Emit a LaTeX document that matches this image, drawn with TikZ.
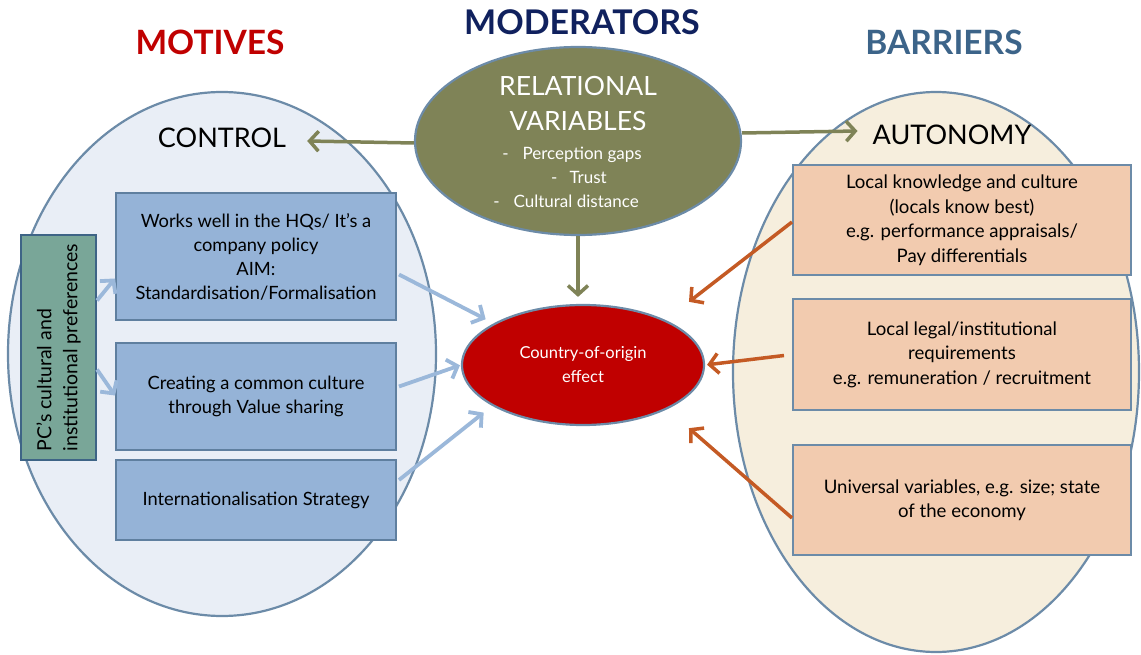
\documentclass[tikz,border=0pt]{standalone}
\usepackage{fontspec}
\setmainfont{Lato}
\usetikzlibrary{arrows.meta,shapes.geometric}

\definecolor{motred}{HTML}{C00000}
\definecolor{modnavy}{HTML}{10215E}
\definecolor{barblue}{HTML}{3C6489}
\definecolor{olive}{HTML}{7F8357}
\definecolor{rimblue}{HTML}{6C8BA8}
\definecolor{ctrlfill}{HTML}{E9EEF6}
\definecolor{autofill}{HTML}{F6EEDD}
\definecolor{boxblue}{HTML}{95B3D7}
\definecolor{boxrim}{HTML}{5F7F9F}
\definecolor{pcgreen}{HTML}{79A698}
\definecolor{pcrim}{HTML}{3E6486}
\definecolor{peach}{HTML}{F2CBAF}
\definecolor{effred}{HTML}{C00000}
\definecolor{rust}{HTML}{C45A24}
\definecolor{arrblue}{HTML}{9BB8DA}

\tikzset{
  heading/.style={font=\bfseries\fontsize{33.5}{33.5}\selectfont, inner sep=0pt, anchor=base},
  zone/.style={ellipse, draw=rimblue, line width=2.2pt, inner sep=0pt},
  zonelabel/.style={font=\fontsize{27}{27}\selectfont, inner sep=0pt},
  modtext/.style={text=white, inner sep=0pt, anchor=base},
  motivebox/.style={rectangle, draw=boxrim, fill=boxblue, line width=2pt, align=center,
    font=\fontsize{18.3}{24}\selectfont, minimum width=280pt, inner sep=0pt},
  barrierbox/.style={rectangle, draw=rimblue, fill=peach, line width=2pt, align=center,
    font=\fontsize{18.6}{24.5}\selectfont, minimum width=338pt, inner sep=0pt},
  barb/.style={-{Straight Barb[length=9pt,width=20pt]}},
  olivearrow/.style={barb, draw=olive, line width=3.5pt},
  bluearrow/.style={barb, draw=arrblue, line width=3.8pt},
  rustarrow/.style={barb, draw=rust, line width=3.5pt},
}

\begin{document}
\begin{tikzpicture}[x=1pt,y=-1pt]
\useasboundingbox (0,0) rectangle (1141,655);

% column headings
\node[heading, text=motred] (hmot) at (210,55) {MOTIVES};
\node[heading, text=modnavy, font=\bfseries\fontsize{34}{34}\selectfont] (hmod) at (582,35) {MODERATORS};
\node[heading, text=barblue] (hbar) at (944,55) {BARRIERS};

% the two large zones
\node[zone, fill=ctrlfill, minimum width=428pt, minimum height=524pt] (ctrlzone) at (222,354) {};
\node[zone, fill=autofill, minimum width=406pt, minimum height=560pt] (autozone) at (936,372) {};

\node[zonelabel] (ctrl) at (222,138) {CONTROL};
\node[zonelabel] (auto) at (952,135) {AUTONOMY};

% moderators
\node[zone, fill=olive, minimum width=326pt, minimum height=188pt] (mod) at (578,141) {};
\node[modtext, font=\fontsize{26.5}{26.5}\selectfont] (modl1) at (578,96) {RELATIONAL};
\node[modtext, font=\fontsize{26.5}{26.5}\selectfont] (modl2) at (578,131) {VARIABLES};
\node[modtext, font=\fontsize{17}{17}\selectfont] (modl3) at (572,160) {-\hspace{14pt}Perception gaps};
\node[modtext, font=\fontsize{17}{17}\selectfont] (modl4) at (579,184) {-\hspace{12pt}Trust};
\node[modtext, font=\fontsize{17}{17}\selectfont] (modl5) at (566,208) {-\hspace{14pt}Cultural distance};

% the central effect
\node[zone, fill=effred, minimum width=242pt, minimum height=120pt, text=white,
  align=center, font=\fontsize{16.5}{24}\selectfont] (coo) at (583,365) {Country-of-origin\\effect};

% motives
\node[rectangle, draw=pcrim, fill=pcgreen, line width=2pt, minimum width=75pt,
  minimum height=225pt] (pc) at (58.5,347.5) {};
\node[rotate=90, align=left, font=\fontsize{19.5}{26}\selectfont, inner sep=0pt] (pctext) at (pc.center)
  {PC’s cultural and\\institutional preferences};

\node[motivebox, minimum height=127pt] (b1) at (256,256.5)
  {Works well in the HQs/ It’s a\\company policy\\AIM:\\Standardisation/Formalisation};
\node[motivebox, minimum height=107pt] (b2) at (256,396.5)
  {Creating a common culture\\through Value sharing};
\node[motivebox, minimum height=80pt] (b3) at (256,500)
  {Internationalisation Strategy};

% barriers
\node[barrierbox, minimum height=110pt] (r1) at (962,220)
  {Local knowledge and culture\\(locals know best)\\e.g. performance appraisals/\\Pay differentials};
\node[barrierbox, minimum height=111pt] (r2) at (962,354.5)
  {Local legal/institutional\\requirements\\e.g. remuneration / recruitment};
\node[barrierbox, minimum height=110pt] (r3) at (962,500)
  {Universal variables, e.g. size; state\\of the economy};

% moderator links
\draw[olivearrow] ([shift={(0,2)}]mod.west) -- ([shift={(21,3)}]ctrl.east);
\draw[olivearrow] ([shift={(0,-8)}]mod.east) -- ([shift={(-15,-4)}]auto.west);
\draw[olivearrow, shorten >=7pt] (mod.south) -- (mod.south |- coo.north);

% motive links
\draw[bluearrow] ([shift={(0,-47)}]pc.east) -- ([shift={(0,22)}]b1.west);
\draw[bluearrow] ([shift={(0,22)}]pc.east) -- ([shift={(0,-1)}]b2.west);
\draw[bluearrow, shorten >=9pt] ([shift={(2,18)}]b1.east) -- (coo.155);
\draw[bluearrow, shorten >=1pt] ([shift={(2,-10)}]b2.east) -- (coo.west);
\draw[bluearrow] ([shift={(2,-20)}]b3.east) -- ([shift={(-10,6)}]coo.205);

% barrier links
\draw[rustarrow] ([shift={(0,2)}]r1.west) -- ([shift={(26,-17)}]coo.30);
\draw[rustarrow, shorten >=2pt] ([shift={(-8,1)}]r2.west) -- (coo.east);
\draw[rustarrow] ([shift={(0,18)}]r3.west) -- ([shift={(26,17)}]coo.330);
\end{tikzpicture}
\end{document}
